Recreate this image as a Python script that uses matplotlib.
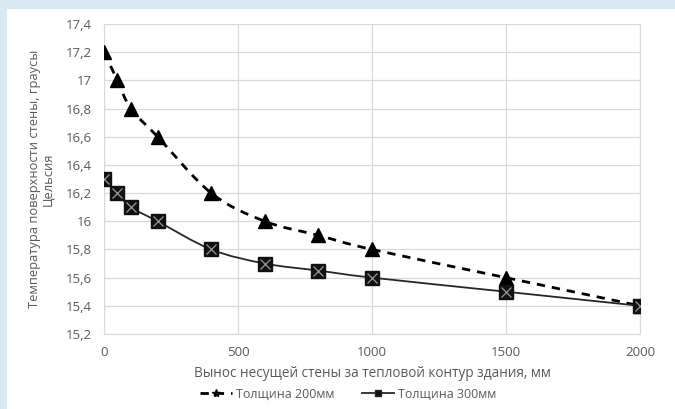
import matplotlib

matplotlib.use("Agg")
import matplotlib.pyplot as plt
import numpy as np
from matplotlib.lines import Line2D
from matplotlib.patches import PathPatch
from matplotlib.path import Path

plt.rcParams["font.family"] = ["Open Sans", "DejaVu Sans"]

offset_mm = [0, 50, 100, 200, 400, 600, 800, 1000, 1500, 2000]
temp_200 = [17.2, 17.0, 16.8, 16.6, 16.2, 16.0, 15.9, 15.8, 15.6, 15.4]
temp_300 = [16.3, 16.2, 16.1, 16.0, 15.8, 15.7, 15.65, 15.6, 15.5, 15.4]
y_ticks = [15.2, 15.4, 15.6, 15.8, 16.0, 16.2, 16.4, 16.6, 16.8, 17.0, 17.2, 17.4]
y_tick_labels = ["15,2", "15,4", "15,6", "15,8", "16", "16,2", "16,4", "16,6",
                 "16,8", "17", "17,2", "17,4"]
x_ticks = [0, 500, 1000, 1500, 2000]

GREY_TXT = "#595959"
GRID = "#d9d9d9"


def smooth_path(xs, ys, tension=0.5):
    """Cardinal-spline style smoothed line, like Excel's 'smoothed line'."""
    pts = np.column_stack([xs, ys]).astype(float)
    n = len(pts)
    verts = [pts[0]]
    codes = [Path.MOVETO]
    for i in range(n - 1):
        p0 = pts[i - 1] if i > 0 else pts[i]
        p1, p2 = pts[i], pts[i + 1]
        p3 = pts[i + 2] if i + 2 < n else pts[i + 1]
        c1 = p1 + (p2 - p0) * tension / 3
        c2 = p2 - (p3 - p1) * tension / 3
        verts += [c1, c2, p2]
        codes += [Path.CURVE4] * 3
    return Path(verts, codes)


fig = plt.figure(figsize=(6.75, 4.09), dpi=100)
fig.patch.set_facecolor("#d7e8f2")
fig.add_artist(plt.Rectangle((7 / 675, -0.1), 1.2, 1.1 - 9 / 409,
                             transform=fig.transFigure,
                             facecolor="white", edgecolor="none", zorder=0))

ax = fig.add_axes([104 / 675, 1 - 334 / 409, 536 / 675, 310 / 409])
ax.set_facecolor("white")

ax.add_patch(PathPatch(smooth_path(offset_mm, temp_200), fill=False,
                       edgecolor="black", lw=2, ls=(0, (3, 2.5)), zorder=3))
ax.add_patch(PathPatch(smooth_path(offset_mm, temp_300), fill=False,
                       edgecolor="#262626", lw=1.3, zorder=3))

ax.plot(offset_mm, temp_200, ls="none", marker="^", ms=10, color="black", zorder=4)
ax.plot(offset_mm, temp_300, ls="none", marker="s", ms=9.5, color="#111111", zorder=4)
ax.plot(offset_mm, temp_300, ls="none", marker="x", ms=7, mew=0.9,
        color="#9a9a9a", zorder=5)

ax.set_xlim(0, 2000)
ax.set_ylim(15.2, 17.4)
ax.set_xticks(x_ticks)
ax.set_yticks(y_ticks)
ax.set_yticklabels(y_tick_labels)
ax.grid(True, color=GRID, lw=0.9)
ax.set_axisbelow(True)
ax.tick_params(length=0, labelsize=9.5, colors=GREY_TXT, pad=9)
for s in ax.spines.values():
    s.set_color(GRID)

ax.set_xlabel("Вынос несущей стены за тепловой контур здания, мм",
              fontsize=9.8, color=GREY_TXT, labelpad=5)
ax.set_ylabel("Температура поверхности стены, граусы\nЦельсия",
              fontsize=9.3, color=GREY_TXT, labelpad=8, linespacing=1.05)

handles = [
    Line2D([], [], color="black", lw=2, ls=(0, (3, 2.5)), marker="*", ms=6),
    Line2D([], [], color="#262626", lw=1.3, marker="s", ms=5, mfc="#111111"),
]
fig.legend(handles, ["Толщина 200мм", "Толщина 300мм"], loc="center",
           bbox_to_anchor=(348 / 675, 1 - 394 / 409), ncol=2, frameon=False,
           fontsize=9, labelcolor=GREY_TXT, handlelength=2.6, columnspacing=2.2,
           handletextpad=0.3, borderpad=0, borderaxespad=0)

fig.savefig("out.png", dpi=100)
